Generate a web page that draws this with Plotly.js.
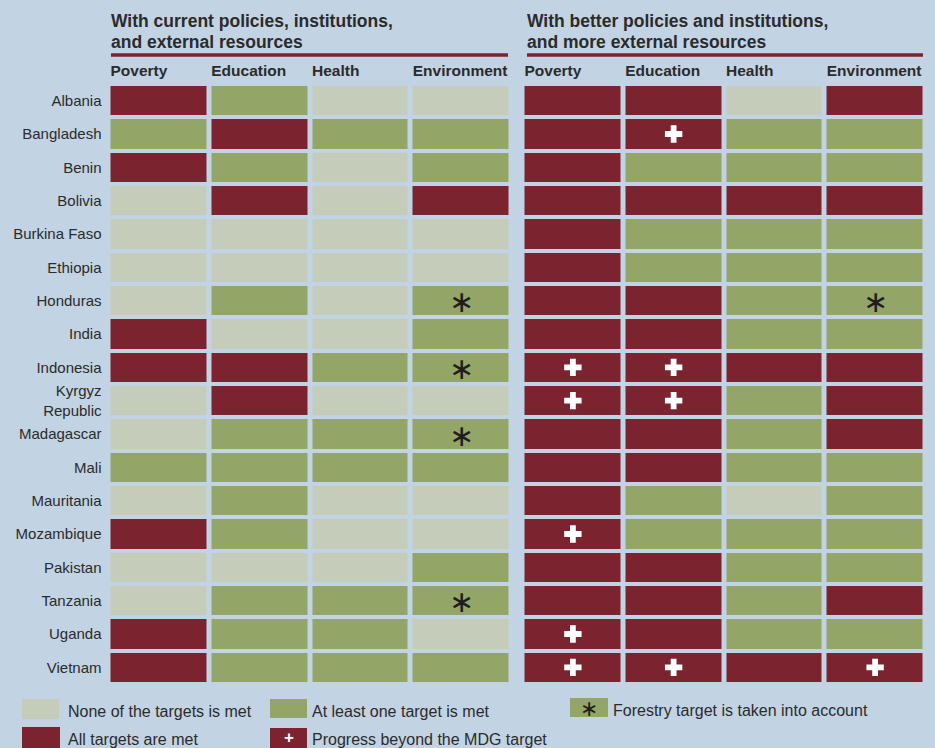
<!DOCTYPE html>
<html>
<head>
<meta charset="utf-8">
<script src="https://cdn.plot.ly/plotly-3.0.1.min.js"></script>
<style>body{margin:0;background:#c2d3e3}</style>
</head>
<body>
<div id="chart" style="width:935px;height:748px"></div>
<script>
// 0 = none of the targets met, 1 = at least one met, 2 = all met
var countries = ["Albania", "Bangladesh", "Benin", "Bolivia", "Burkina Faso", "Ethiopia",
    "Honduras", "India", "Indonesia", "Kyrgyz<br>Republic", "Madagascar", "Mali",
    "Mauritania", "Mozambique", "Pakistan", "Tanzania", "Uganda", "Vietnam"];
var goals = ["Poverty", "Education", "Health", "Environment"];

var current = [
    [2, 1, 0, 0], [1, 2, 1, 1], [2, 1, 0, 1], [0, 2, 0, 2], [0, 0, 0, 0], [0, 0, 0, 0],
    [0, 1, 0, 1], [2, 0, 0, 1], [2, 2, 1, 1], [0, 2, 0, 0], [0, 1, 1, 1], [1, 1, 1, 1],
    [0, 1, 0, 0], [2, 1, 0, 0], [0, 0, 0, 1], [0, 1, 1, 1], [2, 1, 1, 0], [2, 1, 1, 1]
];
var better = [
    [2, 2, 0, 2], [2, 2, 1, 1], [2, 1, 1, 1], [2, 2, 2, 2], [2, 1, 1, 1], [2, 1, 1, 1],
    [2, 2, 1, 1], [2, 2, 1, 1], [2, 2, 2, 2], [2, 2, 1, 2], [2, 2, 1, 2], [2, 2, 1, 1],
    [2, 1, 0, 1], [2, 1, 1, 1], [2, 2, 1, 1], [2, 2, 1, 2], [2, 2, 1, 1], [2, 2, 2, 2]
];

// forestry target taken into account (environment column)
var forestryCurrent = ["Honduras", "Indonesia", "Madagascar", "Tanzania"];
var forestryBetter = ["Honduras"];

// progress beyond the MDG target (better scenario)
var progressCountries = ["Bangladesh", "Indonesia", "Indonesia", "Kyrgyz<br>Republic", "Kyrgyz<br>Republic",
    "Mozambique", "Uganda", "Vietnam", "Vietnam", "Vietnam"];
var progressGoals = ["Education", "Poverty", "Education", "Poverty", "Education",
    "Poverty", "Poverty", "Poverty", "Education", "Environment"];

var BG = "#c2d3e3", LIGHT = "#c5ccb9", GREEN = "#93a567", RED = "#7c2330", INK = "#2b2b2b";
var SANS = '"Liberation Sans", Arial, sans-serif';

var goalIdx = goals.map(function (g, i) { return i; });
var scale = [[0, LIGHT], [0.5, GREEN], [1, RED]];

function heat(z, xa, ya) {
    return {
        type: "heatmap", x: goalIdx, y: countries, z: z, xaxis: xa, yaxis: ya,
        zmin: 0, zmax: 2, colorscale: scale, showscale: false,
        xgap: 5, ygap: 4, hoverinfo: "skip"
    };
}

var data = [
    heat(current, "x", "y"),
    heat(better, "x2", "y2"),
    {
        type: "scatter", mode: "markers", xaxis: "x2", yaxis: "y2",
        x: progressGoals.map(function (g) { return goals.indexOf(g); }), y: progressCountries,
        marker: {symbol: "cross", size: 14.5, color: "#ffffff", line: {width: 0}},
        hoverinfo: "skip"
    }
];

function px(v) { return v / 935; }
function py(v) { return 1 - v / 748; }

var topAxis = function (dom, anchor) {
    return {
        domain: dom, anchor: anchor, side: "top", range: [-0.5, 3.5], fixedrange: true,
        tickmode: "array", tickvals: [-0.5, 0.5, 1.5, 2.5], ticktext: goals,
        ticklabelposition: "outside right", ticks: "", ticklabelstandoff: 4, ticklabelshift: 2,
        tickfont: {family: SANS, size: 15.5, color: INK, weight: "bold"},
        showgrid: false, zeroline: false, showline: false
    };
};

var yDom = [py(684), py(84)];
var yRange = [countries.length - 0.5, -0.5];

var annotations = [
    {text: "With current policies, institutions,", x: px(109), y: py(21)},
    {text: "and external resources", x: px(109), y: py(42)},
    {text: "With better policies and institutions,", x: px(525), y: py(21)},
    {text: "and more external resources", x: px(525), y: py(42)}
].map(function (a) {
    return {text: a.text, x: a.x, y: a.y, xref: "paper", yref: "paper", xanchor: "left", yanchor: "middle",
        showarrow: false, font: {family: SANS, size: 17.5, color: INK, weight: "bold"}};
});

// forestry asterisks, placed on the heatmap axes
function addStars(list, xa, ya) {
    list.forEach(function (c) {
        annotations.push({text: "∗", x: goals.indexOf("Environment"), y: c, xref: xa, yref: ya,
            xanchor: "center", yanchor: "middle", yshift: -1, showarrow: false,
            font: {family: "DejaVu Sans", size: 30, color: "#1e1e1e"}});
    });
}
addStars(forestryCurrent, "x", "y");
addStars(forestryBetter, "x2", "y2");

var legendText = [
    ["None of the targets is met", 66, 711],
    ["All targets are met", 66, 739],
    ["At least one target is met", 310, 711],
    ["Progress beyond the MDG target", 310, 739],
    ["Forestry target is taken into account", 611, 710]
];
legendText.forEach(function (t) {
    annotations.push({text: t[0], x: px(t[1]), y: py(t[2]), xref: "paper", yref: "paper",
        xanchor: "left", yanchor: "middle", showarrow: false,
        font: {family: SANS, size: 16, color: INK}});
});
annotations.push({text: "<b>+</b>", x: px(288.5), y: py(737), xref: "paper", yref: "paper",
    xanchor: "center", yanchor: "middle",
    showarrow: false, font: {family: SANS, size: 17, color: "#ffffff"}});
annotations.push({text: "∗", x: px(589), y: py(708), xref: "paper", yref: "paper",
    xanchor: "center", yanchor: "middle",
    showarrow: false, font: {family: "DejaVu Sans", size: 22, color: "#1e1e1e"}});

function rect(x0, y0, x1, y1, c) {
    return {type: "rect", xref: "paper", yref: "paper", x0: px(x0), x1: px(x1), y0: py(y1), y1: py(y0),
        fillcolor: c, line: {width: 0}, layer: "below"};
}

var shapes = [
    {type: "line", xref: "paper", yref: "paper", x0: px(111), x1: px(508), y0: py(55), y1: py(55),
        line: {color: RED, width: 3.5}},
    {type: "line", xref: "paper", yref: "paper", x0: px(527), x1: px(923), y0: py(55), y1: py(55),
        line: {color: RED, width: 3.5}},
    rect(22, 699, 59, 719, LIGHT),
    rect(22, 727, 60, 748, RED),
    rect(270, 699, 307, 718, GREEN),
    rect(270, 728, 307, 748, RED),
    rect(570, 698, 608, 717, GREEN)
];

var layout = {
    width: 935, height: 748,
    margin: {l: 0, r: 0, t: 0, b: 0},
    paper_bgcolor: BG, plot_bgcolor: BG,
    showlegend: false,
    xaxis: topAxis([px(108.5), px(511.5)], "y"),
    xaxis2: topAxis([px(522.5), px(925.5)], "y2"),
    yaxis: {
        domain: yDom, anchor: "x", type: "category", range: yRange, autorange: false, fixedrange: true,
        ticks: "", ticklabelstandoff: 6, showgrid: false, zeroline: false,
        tickfont: {family: SANS, size: 15, color: INK}
    },
    yaxis2: {
        domain: yDom, anchor: "x2", matches: "y", type: "category", range: yRange, autorange: false,
        fixedrange: true, showticklabels: false, ticks: "", showgrid: false, zeroline: false
    },
    annotations: annotations,
    shapes: shapes
};

Plotly.newPlot("chart", data, layout, {displayModeBar: false, staticPlot: true});
</script>
</body>
</html>
